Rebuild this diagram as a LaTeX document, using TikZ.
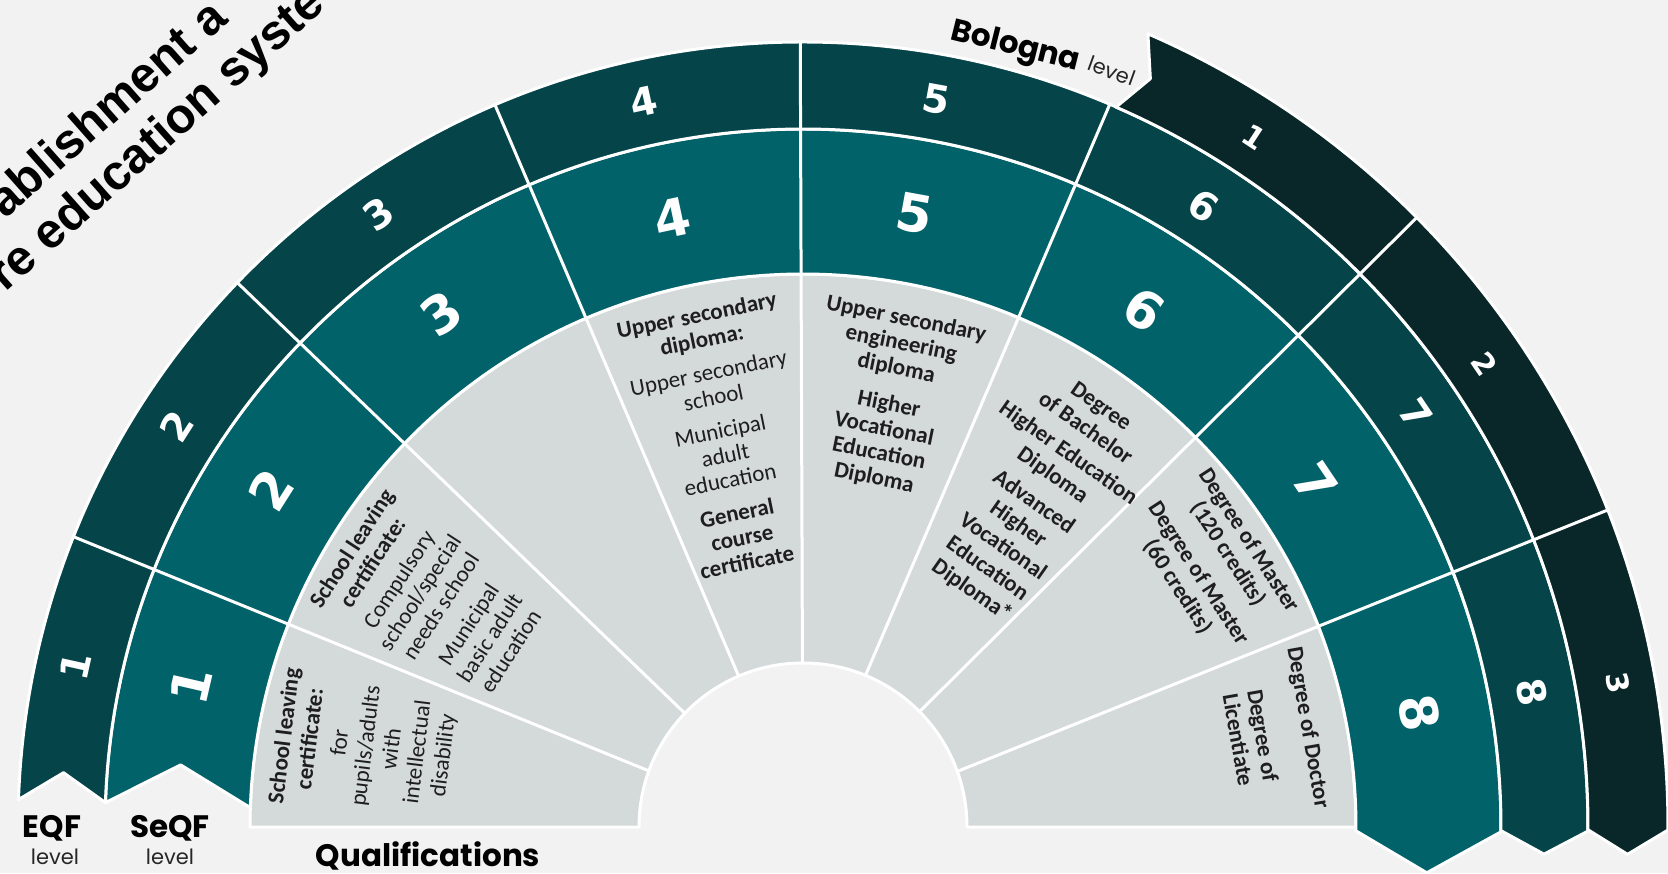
\documentclass[tikz,border=0pt]{standalone}
\usepackage{fontspec}
\newfontfamily\carl{Carlito}
\newfontfamily\djv{DejaVu Sans}
\newfontfamily\popp{Poppins}
\newfontfamily\libs{Liberation Sans}
\definecolor{bgc}{RGB}{242,242,242}
\definecolor{cellgray}{RGB}{212,217,218}
\definecolor{seqfc}{RGB}{2,98,106}
\definecolor{eqfc}{RGB}{5,68,73}
\definecolor{boloc}{RGB}{9,38,40}
\definecolor{qtext}{RGB}{30,30,30}
\tikzset{
  cellb/.style={draw=white, line width=3pt, line join=round},
  gcell/.style={cellb, fill=cellgray},
  scell/.style={cellb, fill=seqfc},
  ecell/.style={cellb, fill=eqfc},
  bcell/.style={cellb, fill=boloc},
  sep/.style={draw=white, line width=3pt},
  snum/.style={text=white, font=\djv\bfseries\fontsize{52}{52}\selectfont, inner sep=0pt},
  enum/.style={text=white, font=\djv\bfseries\fontsize{39}{39}\selectfont, inner sep=0pt},
  bnum/.style={text=white, font=\djv\bfseries\fontsize{30}{30}\selectfont, inner sep=0pt},
  qual/.style={font=\carl\fontsize{23}{25}\selectfont, align=center, text=qtext, inner sep=0pt},
  lab/.style={font=\popp\bfseries\fontsize{31}{31}\selectfont, text=black, inner sep=0pt},
  sublab/.style={font=\popp\fontsize{21}{21}\selectfont, text=black!85, inner sep=0pt},
  wm/.style={font=\libs\bfseries\fontsize{49}{49}\selectfont, anchor=base west, rotate=41.5, inner sep=0pt, text=black}
}
\begin{document}
\begin{tikzpicture}[x=1pt,y=1pt]
\useasboundingbox (0,0) rectangle (1668,873);
\fill[bgc] (0,0) rectangle (1668,873);
\begin{scope}
\clip (0,0) rectangle (1668,873);
\node[wm] (wm1) at (5,653) {ablishment a};
\node[wm] (wm2) at (5,580) {re education syste};
\end{scope}
\begin{scope}[shift={(803,46)}]
% gray qualification band
\path[gcell] (180:553pt) arc[start angle=180,end angle=0,radius=553pt] -- (0:164pt) arc[start angle=0,end angle=180,radius=164pt] -- cycle;
% SeQF band
\path[scell] (178:553pt) -- (174.3:625.5pt) -- (178:698pt) arc[start angle=178,end angle=-0.4,radius=698pt] -- (-4.2:625.5pt) -- (-0.4:553pt) arc[start angle=-0.4,end angle=178,radius=553pt] -- cycle;
% EQF band
\path[ecell] (178:698pt) -- (175.8:741.5pt) -- (178:785pt) arc[start angle=178,end angle=-0.3,radius=785pt] -- (-2.1:741.5pt) -- (-0.3:698pt) arc[start angle=-0.3,end angle=178,radius=698pt] -- cycle;
% Bologna band
\path[bcell] (66.5:785pt) -- (65.1:825pt) -- (66.5:865pt) arc[start angle=66.5,end angle=-0.2,radius=865pt] -- (-1.9:825pt) -- (-0.2:785pt) arc[start angle=-0.2,end angle=66.5,radius=785pt] -- cycle;
% level separators
\coordinate (k1a) at (160:164pt);   \coordinate (k1b) at (158.3:785pt);
\coordinate (k2a) at (136.1:164pt); \coordinate (k2b) at (136.1:785pt);
\coordinate (k3a) at (113.1:164pt); \coordinate (k3b) at (113.1:785pt);
\coordinate (k4a) at (90.2:164pt);  \coordinate (k4b) at (90.2:785pt);
\coordinate (k5a) at (67.6:164pt);  \coordinate (k5b) at (67:785pt);
\coordinate (k6a) at (44.7:164pt);  \coordinate (k6b) at (44.8:865pt);
\coordinate (k7a) at (19.8:164pt);  \coordinate (k7b) at (21.5:865pt);
\draw[sep] (k1a) -- (k1b);
\draw[sep] (k2a) -- (k2b);
\draw[sep] (k3a) -- (k3b);
\draw[sep] (k4a) -- (k4b);
\draw[sep] (k5a) -- (k5b);
\draw[sep] (k6a) -- (k6b);
\draw[sep] (k7a) -- (k7b);
% SeQF numbers
\node[snum, rotate=77]   (s1) at (167:628pt) {1};
\node[snum, rotate=57.6] (s2) at (147.6:630pt) {2};
\node[snum, rotate=35.2] (s3) at (125.2:628pt) {3};
\node[snum, rotate=12.1] (s4) at (102.1:623pt) {4};
\node[snum, rotate=-10.3] (s5) at (79.7:624pt) {5};
\node[snum, rotate=-33.4] (s6) at (56.6:620pt) {6};
\node[snum, rotate=-56.1] (s7) at (33.9:617pt) {7};
\node[snum, rotate=-79.5] (s8) at (10.5:627pt) {8};
% EQF numbers
\node[enum, rotate=77.5] (e1) at (167.5:745pt) {1};
\node[enum, rotate=57.4] (e2) at (147.4:744pt) {2};
\node[enum, rotate=34.7] (e3) at (124.7:745pt) {3};
\node[enum, rotate=12.4] (e4) at (102.4:743pt) {4};
\node[enum, rotate=-10.4] (e5) at (79.6:740pt) {5};
\node[enum, rotate=-32.8] (e6) at (57.2:739pt) {6};
\node[enum, rotate=-56] (e7) at (34:739pt) {7};
\node[enum, rotate=-79.5] (e8) at (10.5:741pt) {8};
% Bologna numbers
\node[bnum, rotate=-33.2] (b1) at (56.8:824pt) {1};
\node[bnum, rotate=-55.8] (b2) at (34.2:824pt) {2};
\node[bnum, rotate=-80] (b3) at (10:828pt) {3};
% qualification texts
\node[qual, rotate=83, font=\carl\fontsize{23}{26}\selectfont] (q1) at (169.5:446pt) {\bfseries School leaving\\\bfseries certificate:\\[4pt]for\\pupils/adults\\with\\intellectual\\disability};
\node[qual, rotate=57] (q2) at (148.6:436pt) {\bfseries School leaving\\\bfseries certificate:\\[6pt]Compulsory\\school/special\\needs school\\[8pt]Municipal\\basic adult\\education};
\node[qual, rotate=11.5] (q4) at (101.8:397pt) {\bfseries Upper secondary\\\bfseries diploma:\\[9pt]Upper secondary\\school\\[9pt]Municipal\\adult\\education\\[9pt]\bfseries General\\\bfseries course\\\bfseries certificate};
\node[qual, rotate=-11.5] (q5) at (78.5:437pt) {\bfseries Upper secondary\\\bfseries engineering\\\bfseries diploma\\[12pt]\bfseries Higher\\\bfseries Vocational\\\bfseries Education\\\bfseries Diploma};
\node[qual, rotate=-35, font=\carl\fontsize{23}{27}\selectfont] (q6) at (54.6:402pt) {\bfseries Degree\\\bfseries of Bachelor\\[3pt]\bfseries Higher Education\\\bfseries Diploma\\[6pt]\bfseries Advanced\\\bfseries Higher\\\bfseries Vocational\\\bfseries Education\\\bfseries Diploma*};
\node[qual, rotate=-57] (q7) at (32.7:487pt) {\bfseries Degree of Master\\\bfseries (120 credits)\\[10pt]\bfseries Degree of Master\\\bfseries (60 credits)};
\node[qual, rotate=-80] (q8) at (11.2:480pt) {\bfseries Degree of Doctor\\[22pt]\bfseries Degree of\\\bfseries Licentiate};
\end{scope}
% legend labels
\node[lab] (eqf) at (52,45) {EQF};
\node[sublab] (eqfl) at (55,16) {level};
\node[lab] (seqf) at (170,45) {SeQF};
\node[sublab] (seqfl) at (170,16) {level};
\node[lab] (qualif) at (428,17) {Qualifications};
\node[lab, rotate=-14] (bolo) at (1015,825) {Bologna};
\node[sublab, rotate=-20] (bolol) at (1112,802) {level};
\end{tikzpicture}
\end{document}
